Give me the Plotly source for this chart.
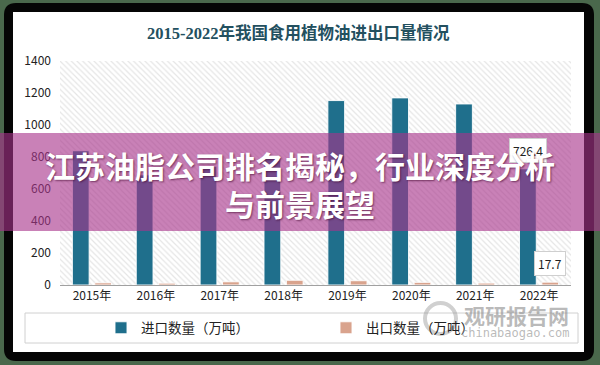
import plotly.graph_objects as go

years = ["2015年", "2016年", "2017年", "2018年", "2019年", "2020年", "2021年", "2022年"]
imports = [839.1, 688.4, 742.8, 808.7, 1152.7, 1169.5, 1131.5, 726.4]
exports = [13.5, 11.4, 20.0, 29.6, 26.7, 16.6, 12.0, 17.7]
y_ticks = [0, 200, 400, 600, 800, 1000, 1200, 1400]

W, H = 600, 365


def px(x):
    return x / W


def py(y):
    return 1 - y / H


def rrect(x0, y0, x1, y1, r):
    pts = [
        f"M {px(x0 + r)},{py(y0)}",
        f"L {px(x1 - r)},{py(y0)}",
        f"Q {px(x1)},{py(y0)} {px(x1)},{py(y0 + r)}",
        f"L {px(x1)},{py(y1 - r)}",
        f"Q {px(x1)},{py(y1)} {px(x1 - r)},{py(y1)}",
        f"L {px(x0 + r)},{py(y1)}",
        f"Q {px(x0)},{py(y1)} {px(x0)},{py(y1 - r)}",
        f"L {px(x0)},{py(y0 + r)}",
        f"Q {px(x0)},{py(y0)} {px(x0 + r)},{py(y0)}",
        "Z",
    ]
    return " ".join(pts)


fig = go.Figure()

# hatched plot background (base axes)
fig.add_trace(go.Bar(
    x=[0.5], y=[1], width=[1], xaxis="x", yaxis="y",
    marker=dict(color="white", line=dict(width=0),
                pattern=dict(shape="\\", fgcolor="#cccccc", bgcolor="white", size=4, solidity=0.3)),
    showlegend=False, hoverinfo="skip",
))

fig.add_trace(go.Bar(
    x=years, y=imports, name="进口数量（万吨）", xaxis="x2", yaxis="y2",
    marker=dict(color="#1f6f8c", line=dict(color="rgba(255,255,255,0.9)", width=1)),
))
fig.add_trace(go.Bar(
    x=years, y=exports, name="出口数量（万吨）", xaxis="x2", yaxis="y2",
    marker=dict(color="#d9a38d", line=dict(color="rgba(255,255,255,0.9)", width=1)),
))

dom_x = [px(60), px(571)]
dom_y = [py(285), py(61)]

fig.update_layout(
    width=W, height=H,
    margin=dict(l=0, r=0, t=0, b=0),
    paper_bgcolor="#4a684c",
    plot_bgcolor="rgba(0,0,0,0)",
    barmode="group", bargap=0.3, bargroupgap=0.25,
    xaxis=dict(domain=dom_x, range=[0, 1], visible=False, fixedrange=True),
    yaxis=dict(domain=dom_y, range=[0, 1], visible=False, fixedrange=True),
    xaxis2=dict(overlaying="x", type="category", range=[-0.5, 7.5], showline=True,
                linecolor="#a0a0a0", linewidth=1, ticks="", showgrid=False, automargin=False,
                tickfont=dict(family="Noto Sans CJK SC", size=12, color="#222")),
    yaxis2=dict(overlaying="y", range=[0, 1400], tickvals=y_ticks, showgrid=False,
                showline=False, zeroline=False, ticks="", ticklabelstandoff=8, automargin=False,
                tickfont=dict(family="Noto Sans CJK SC", size=12, color="#222")),
    legend=dict(orientation="h", x=px(101), y=py(328), xanchor="left", yanchor="middle",
                entrywidth=180, entrywidthmode="pixels", bgcolor="rgba(0,0,0,0)",
                font=dict(family="Noto Sans CJK SC", size=13.5, color="#222"),
                itemwidth=30),
    showlegend=True,
)

shapes = [
    dict(type="path", path=rrect(4, 3, 594, 361, 12), xref="paper", yref="paper",
         fillcolor="#050505", line=dict(width=0), layer="below"),
    dict(type="rect", x0=px(13), x1=px(584), y0=py(12), y1=py(352), xref="paper", yref="paper",
         fillcolor="white", line=dict(width=0), layer="below"),
    dict(type="rect", x0=px(25), x1=px(578), y0=py(313), y1=py(343), xref="paper", yref="paper",
         fillcolor="rgba(0,0,0,0)", line=dict(color="#d0d0d0", width=1), layer="below"),
    # watermark logo
    dict(type="circle", x0=px(425), x1=px(456), y0=py(303), y1=py(334), xref="paper", yref="paper",
         fillcolor="rgba(0,0,0,0)", line=dict(color="rgba(150,150,150,0.45)", width=4), layer="above"),
    # pink banner
    dict(type="rect", x0=0, x1=1, y0=py(231), y1=py(133), xref="paper", yref="paper",
         fillcolor="rgba(168,52,138,0.62)", line=dict(width=0), layer="above"),
]
fig.update_layout(shapes=shapes)

banner_font = dict(family="Noto Sans CJK SC", size=30, color="white",
                   shadow="1px 1px 2px rgba(60,0,40,0.6)")
mark_font = dict(family="Noto Sans CJK SC", size=12, color="#222")

annotations = [
    dict(text="<b>2015-2022年我国食用植物油进出口量情况</b>", x=px(298), y=py(33),
         xanchor="center", yanchor="middle", xref="paper", yref="paper", showarrow=False,
         font=dict(family="Liberation Serif, Noto Sans CJK SC", size=16.5, color="#23505f")),
    dict(text=f"{imports[-1]}", x=7, y=imports[-1], xref="x2", yref="y2", xshift=-11, yshift=18,
         xanchor="center", yanchor="middle",
         showarrow=False, bgcolor="white", bordercolor="#cfcfcf", borderwidth=1, borderpad=3,
         font=mark_font),
    dict(text=f"{exports[-1]}", x=7, y=exports[-1], xref="x2", yref="y2", xshift=11, yshift=19,
         xanchor="center", yanchor="middle",
         showarrow=False, bgcolor="white", bordercolor="#cfcfcf", borderwidth=1, borderpad=3,
         font=mark_font),
    dict(text="<b>观研报告网</b>", x=px(516), y=py(315), xref="paper", yref="paper", showarrow=False,
         xanchor="center", yanchor="middle",
         font=dict(family="Noto Sans CJK SC", size=21, color="rgba(140,140,140,0.6)")),
    dict(text="chinabaogao.com", x=px(515), y=py(333), xref="paper", yref="paper", showarrow=False,
         xanchor="center", yanchor="middle",
         font=dict(family="DejaVu Sans Mono", size=12, color="rgba(140,140,140,0.6)")),
    dict(text="<b>江苏油脂公司排名揭秘，行业深度分析</b>", x=px(300), y=py(165), xref="paper", yref="paper",
         xanchor="center", yanchor="middle", showarrow=False, font=banner_font),
    dict(text="<b>与前景展望</b>", x=px(300), y=py(203), xref="paper", yref="paper",
         xanchor="center", yanchor="middle", showarrow=False, font=banner_font),
]
fig.update_layout(annotations=annotations)

fig.write_html("out.html", config={"displayModeBar": False},
               post_script="document.body.style.margin='0px';")
